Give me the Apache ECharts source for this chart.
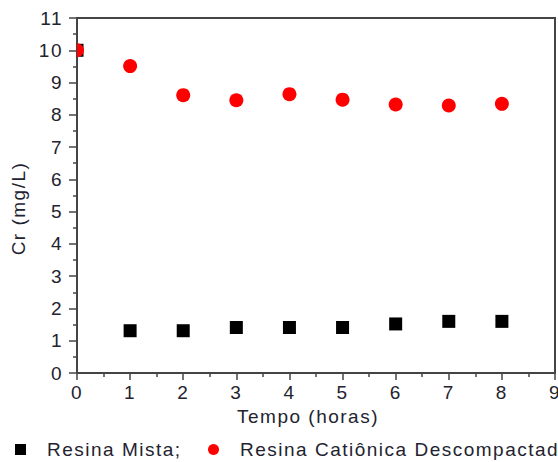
<!DOCTYPE html>
<html>
<head>
<meta charset="utf-8">
<script src="https://cdn.jsdelivr.net/npm/echarts@6/dist/echarts.min.js"></script>
<style>
html, body { margin: 0; padding: 0; background: #fff; }
#c { width: 558px; height: 462px; }
#c text { letter-spacing: 1.5px; }
</style>
</head>
<body>
<div id="c"></div>
<script>
const hours = [0, 1, 2, 3, 4, 5, 6, 7, 8];
const mista = [10.0, 1.31, 1.31, 1.41, 1.41, 1.41, 1.52, 1.6, 1.6];
const cationica = [10.0, 9.51, 8.61, 8.45, 8.64, 8.47, 8.32, 8.29, 8.34];
const nameMista = 'Resina Mista;';
const nameCat = 'Resina Catiônica Descompactada';
const xAxisName = 'Tempo (horas)';
const yAxisName = 'Cr (mg/L)';

const FONT = 'Liberation Sans, Arial, sans-serif';
const TXT = '#23232f';
const AX = '#444';

const chart = echarts.init(document.getElementById('c'), null, { renderer: 'svg' });

function pairs(ys) { return hours.map((h, i) => [h, ys[i]]); }

const legendText = { fontFamily: FONT, fontSize: 19, color: TXT };

chart.setOption({
  animation: false,
  backgroundColor: '#fff',
  grid: {
    left: 77, right: 3, top: 18, bottom: 89,
    show: true, borderColor: AX, borderWidth: 2,
    outerBoundsMode: 'none'
  },
  legend: [
    {
      data: [{ name: nameMista, icon: 'rect' }],
      left: 10, top: 435, itemWidth: 11, itemHeight: 11,
      textStyle: Object.assign({ padding: [0, 0, 0, 16] }, legendText)
    },
    {
      data: [{ name: nameCat, icon: 'circle' }],
      left: 203, top: 435, itemWidth: 11, itemHeight: 11,
      textStyle: Object.assign({ padding: [0, 0, 0, 16] }, legendText)
    }
  ],
  xAxis: {
    type: 'value', min: 0, max: 9, interval: 1,
    name: xAxisName, nameLocation: 'middle', nameGap: 33,
    nameTextStyle: { fontFamily: FONT, fontSize: 19, color: TXT, padding: [0, 16, 0, 0] },
    axisLine: { show: true, onZero: false, lineStyle: { color: AX, width: 2 } },
    axisTick: { show: true, inside: false, length: 7, lineStyle: { color: AX, width: 1.5 } },
    minorTick: { show: true, splitNumber: 2, length: 4, lineStyle: { color: AX, width: 1.5 } },
    splitLine: { show: false },
    axisLabel: { fontFamily: FONT, fontSize: 19, color: TXT, margin: 10, showMaxLabel: true, showMinLabel: true }
  },
  yAxis: {
    type: 'value', min: 0, max: 11, interval: 1,
    name: yAxisName, nameLocation: 'middle', nameGap: 49, nameRotate: 90,
    nameTextStyle: { fontFamily: FONT, fontSize: 19, color: TXT, padding: [0, 26, 0, 0] },
    axisLine: { show: true, onZero: false, lineStyle: { color: AX, width: 2 } },
    axisTick: { show: true, inside: false, length: 8, lineStyle: { color: AX, width: 1.5 } },
    minorTick: { show: true, splitNumber: 2, length: 4, lineStyle: { color: AX, width: 1.5 } },
    splitLine: { show: false },
    axisLabel: { fontFamily: FONT, fontSize: 19, color: TXT, margin: 14 }
  },
  series: [
    {
      name: nameMista,
      type: 'custom',
      clip: true,
      itemStyle: { color: '#000' },
      data: pairs(mista),
      renderItem: function (params, api) {
        const p = api.coord([api.value(0), api.value(1)]);
        const s = 13;
        return { type: 'rect', shape: { x: p[0] - s / 2, y: p[1] - s / 2, width: s, height: s }, style: { fill: '#000' } };
      }
    },
    {
      name: nameCat,
      type: 'custom',
      clip: true,
      itemStyle: { color: '#ff0000' },
      data: pairs(cationica),
      renderItem: function (params, api) {
        const p = api.coord([api.value(0), api.value(1)]);
        return { type: 'circle', shape: { cx: p[0], cy: p[1], r: 7 }, style: { fill: '#ff0000' } };
      }
    }
  ]
});
</script>
</body>
</html>
